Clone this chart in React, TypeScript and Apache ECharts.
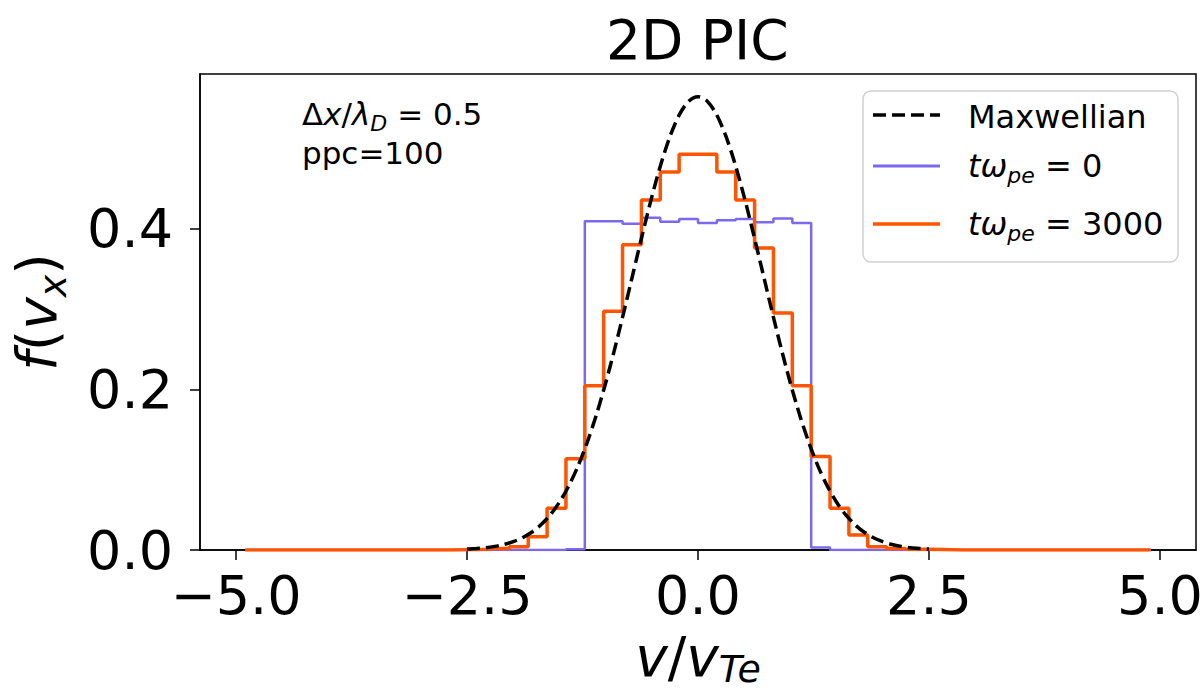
import React, { useEffect, useRef } from "react";
import * as echarts from "echarts";

// Histogram binning (48 bins over [-4.9, 4.9])
const BIN_START = -4.9;
const BIN_END = 4.9;
const BIN_COUNT = 48;

// f(v_x) per bin at t*omega_pe = 0
const initialHist = [
  0, 0, 0, 0, 0, 0, 0, 0, 0, 0, 0, 0,
  0, 0, 0, 0, 0, 0.001,
  0.409, 0.409, 0.406, 0.4135, 0.4085, 0.412, 0.407, 0.4105, 0.412, 0.408, 0.4125, 0.407,
  0.003, 0, 0, 0, 0, 0,
  0, 0, 0, 0, 0, 0, 0, 0, 0, 0, 0, 0,
];

// f(v_x) per bin at t*omega_pe = 3000
const finalHist = [
  0, 0, 0, 0, 0, 0, 0, 0, 0, 0, 0, 0.0005,
  0.001, 0.002, 0.004, 0.0166, 0.052, 0.1135,
  0.2045, 0.297, 0.38, 0.4355, 0.4705, 0.4925, 0.4925, 0.4705, 0.4355, 0.376, 0.295, 0.2045,
  0.1165, 0.052, 0.0187, 0.004, 0.002, 0.001,
  0.0005, 0, 0, 0, 0, 0, 0, 0, 0, 0, 0, 0,
];

// Maxwellian curve samples
const maxwellV = [
  -2.5, -2.4, -2.3, -2.2, -2.1, -2.0, -1.9, -1.8, -1.7, -1.6, -1.5, -1.4, -1.3, -1.2, -1.1, -1.0,
  -0.9, -0.8, -0.7, -0.6, -0.5, -0.4, -0.3, -0.2, -0.1, 0.0, 0.1, 0.2, 0.3, 0.4, 0.5, 0.6, 0.7,
  0.8, 0.9, 1.0, 1.1, 1.2, 1.3, 1.4, 1.5, 1.6, 1.7, 1.8, 1.9, 2.0, 2.1, 2.2, 2.3, 2.4, 2.5,
];
const maxwellF = [
  0.0011, 0.0018, 0.0028, 0.0045, 0.0069, 0.0103, 0.0153, 0.0221, 0.0314, 0.0436, 0.0595,
  0.0795, 0.1041, 0.1337, 0.1682, 0.2076, 0.251, 0.2975, 0.3457, 0.3936, 0.4394, 0.4808,
  0.5156, 0.5421, 0.5586, 0.5642, 0.5586, 0.5421, 0.5156, 0.4808, 0.4394, 0.3936, 0.3457,
  0.2975, 0.251, 0.2076, 0.1682, 0.1337, 0.1041, 0.0795, 0.0595, 0.0436, 0.0314, 0.0221,
  0.0153, 0.0103, 0.0069, 0.0045, 0.0028, 0.0018, 0.0011,
];

const xTicks = [-5, -2.5, 0, 2.5, 5];
const yTicks = [0, 0.2, 0.4];
const X_MIN = -5.39;
const X_MAX = 5.39;
const Y_MIN = 0;
const Y_MAX = 0.5924;

const FONT = "DejaVu Sans";
const BLUE = "#7b68ee";
const ORANGE = "#ff5500";

function stepOutline(heights: number[]): number[][] {
  const w = (BIN_END - BIN_START) / BIN_COUNT;
  const pts: number[][] = [[BIN_START, 0]];
  heights.forEach((h, i) => {
    const a = BIN_START + i * w;
    pts.push([a, h], [a + w, h]);
  });
  pts.push([BIN_END, 0]);
  return pts;
}

const fmt = (v: number) => (v < 0 ? "\u2212" + Math.abs(v).toFixed(1) : v.toFixed(1));

export default function App() {
  const ref = useRef<HTMLDivElement>(null);
  useEffect(() => {
    if (!ref.current) return;
    const chart = echarts.init(ref.current, undefined, { renderer: "svg" });

    const bigRich = {
      i: { fontFamily: FONT, fontSize: 55, fontStyle: "italic", color: "#000", lineHeight: 70, verticalAlign: "middle" },
      n: { fontFamily: FONT, fontSize: 55, color: "#000", lineHeight: 70, verticalAlign: "middle" },
      s: { fontFamily: FONT, fontSize: 38, fontStyle: "italic", color: "#000", lineHeight: 38, verticalAlign: "bottom" },
    };
    const xNameRich = {
      i: { fontFamily: FONT, fontSize: 55, fontStyle: "italic", color: "#000", lineHeight: 62, verticalAlign: "middle" },
      n: { fontFamily: FONT, fontSize: 55, color: "#000", lineHeight: 62, verticalAlign: "middle" },
      s: { fontFamily: FONT, fontSize: 38, fontStyle: "italic", color: "#000", lineHeight: 38, verticalAlign: "bottom" },
    };
    const smallRich = {
      i: { fontFamily: FONT, fontSize: 31, fontStyle: "italic", color: "#000", lineHeight: 40, verticalAlign: "middle" },
      n: { fontFamily: FONT, fontSize: 31, color: "#000", lineHeight: 40, verticalAlign: "middle" },
      s: { fontFamily: FONT, fontSize: 22, fontStyle: "italic", color: "#000", lineHeight: 22, verticalAlign: "bottom" },
    };
    const legRich = {
      i: { fontFamily: FONT, fontSize: 32, fontStyle: "italic", color: "#000", lineHeight: 40, verticalAlign: "middle" },
      n: { fontFamily: FONT, fontSize: 32, color: "#000", lineHeight: 40, verticalAlign: "middle" },
      s: { fontFamily: FONT, fontSize: 22, fontStyle: "italic", color: "#000", lineHeight: 22, verticalAlign: "bottom" },
    };

    const LX = 873;
    const LX2 = 940;
    const TX = 968;
    const rows = [115, 166, 224];

    chart.setOption({
      animation: false,
      backgroundColor: "#fff",
      title: {
        text: "2D PIC",
        left: 606,
        top: 12,
        padding: 0,
        textStyle: { fontFamily: FONT, fontSize: 55, fontWeight: "normal", color: "#000" },
      },
      grid: {
        left: 200,
        top: 74,
        right: 8,
        bottom: 142,
        outerBoundsMode: "none",
        containLabel: false,
        show: true,
        borderColor: "#000",
        borderWidth: 1.5,
        backgroundColor: "transparent",
      },
      xAxis: {
        type: "value",
        min: X_MIN,
        max: X_MAX,
        splitLine: { show: false },
        axisLine: { show: true, onZero: false, lineStyle: { color: "#000", width: 1.5 } },
        axisTick: { show: true, length: 10, customValues: xTicks, lineStyle: { color: "#000", width: 1.5 } },
        axisLabel: {
          customValues: xTicks,
          formatter: (v: number) => fmt(v),
          fontFamily: FONT,
          fontSize: 54,
          color: "#000",
          margin: 18,
        },
        name: "{i|v}{n|/}{i|v}{s|Te}",
        nameLocation: "middle",
        nameGap: 76,
        nameTextStyle: { rich: xNameRich, fontSize: 55, fontFamily: FONT },
      },
      yAxis: {
        type: "value",
        min: Y_MIN,
        max: Y_MAX,
        splitLine: { show: false },
        axisLine: { show: true, onZero: false, lineStyle: { color: "#000", width: 1.5 } },
        axisTick: { show: true, length: 10, customValues: yTicks, lineStyle: { color: "#000", width: 1.5 } },
        axisLabel: {
          customValues: yTicks,
          formatter: (v: number) => fmt(v),
          fontFamily: FONT,
          fontSize: 54,
          color: "#000",
          margin: 27,
        },
        name: "{i|f}{n|(}{i|v}{s|x}{n|)}",
        nameLocation: "middle",
        nameRotate: 90,
        nameGap: 128,
        nameTextStyle: { rich: bigRich, fontSize: 55, fontFamily: FONT },
      },
      series: [
        {
          name: "tω_pe = 0",
          type: "line",
          data: stepOutline(initialHist),
          symbol: "none",
          lineStyle: { color: BLUE, width: 2.5 },
          z: 2,
        },
        {
          name: "tω_pe = 3000",
          type: "line",
          data: stepOutline(finalHist),
          symbol: "none",
          lineStyle: { color: ORANGE, width: 3.5 },
          z: 3,
        },
        {
          name: "Maxwellian",
          type: "line",
          data: maxwellV.map((v, i) => [v, maxwellF[i]]),
          symbol: "none",
          smooth: 0.3,
          lineStyle: { color: "#000", width: 3.5, type: [13, 6] },
          z: 4,
        },
      ],
      graphic: [
        {
          type: "text",
          x: 302,
          y: 114,
          style: {
            text: "{n|Δ}{i|x}{n|/}{i|λ}{s|D}{n| = 0.5}",
            rich: smallRich,
            verticalAlign: "middle",
            align: "left",
          },
          z: 10,
        },
        {
          type: "text",
          x: 302,
          y: 153,
          style: {
            text: "ppc=100",
            fontFamily: FONT,
            fontSize: 31,
            fill: "#000",
            verticalAlign: "middle",
            align: "left",
          },
          z: 10,
        },
        {
          type: "rect",
          shape: { x: 863, y: 91, width: 315, height: 171, r: 8 },
          style: { fill: "rgba(255,255,255,0.8)", stroke: "#d0d0d0", lineWidth: 1.5 },
          z: 10,
        },
        {
          type: "line",
          shape: { x1: LX, y1: rows[0], x2: LX2, y2: rows[0] },
          style: { stroke: "#000", lineWidth: 3.5, lineDash: [13, 6] },
          z: 11,
        },
        {
          type: "line",
          shape: { x1: LX, y1: rows[1], x2: LX2, y2: rows[1] },
          style: { stroke: BLUE, lineWidth: 3 },
          z: 11,
        },
        {
          type: "line",
          shape: { x1: LX, y1: rows[2], x2: LX2, y2: rows[2] },
          style: { stroke: ORANGE, lineWidth: 3.5 },
          z: 11,
        },
        {
          type: "text",
          x: TX,
          y: rows[0] + 2,
          style: { text: "{n|Maxwellian}", rich: legRich, verticalAlign: "middle", align: "left" },
          z: 11,
        },
        {
          type: "text",
          x: TX,
          y: rows[1],
          style: { text: "{i|tω}{s|pe}{n| = 0}", rich: legRich, verticalAlign: "middle", align: "left" },
          z: 11,
        },
        {
          type: "text",
          x: TX,
          y: rows[2],
          style: { text: "{i|tω}{s|pe}{n| = 3000}", rich: legRich, verticalAlign: "middle", align: "left" },
          z: 11,
        },
      ],
    });
    return () => chart.dispose();
  }, []);
  return (
    <div
      ref={ref}
      style={{ position: "absolute", left: 0, top: 0, width: 1204, height: 692 }}
    />
  );
}
